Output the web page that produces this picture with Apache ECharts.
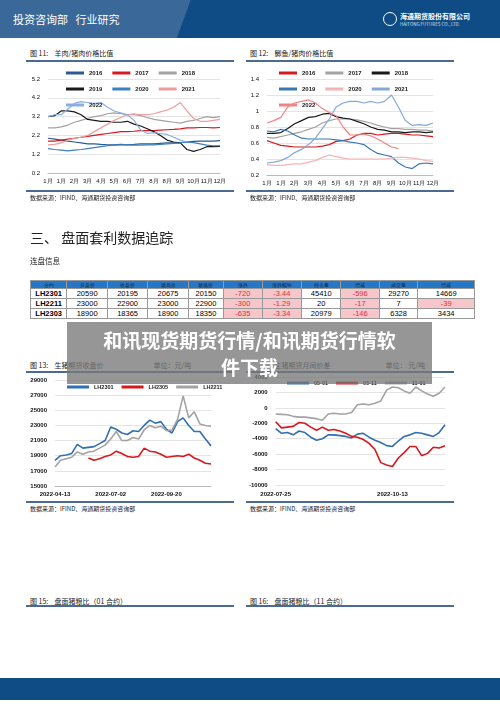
<!DOCTYPE html>
<html><head><meta charset="utf-8">
<script src="https://cdn.jsdelivr.net/npm/echarts@6/dist/echarts.min.js"></script>
<style>
body{margin:0;width:500px;height:707px;background:#fff;position:relative;overflow:hidden;font-family:"Noto Sans CJK SC",sans-serif}
.abs{position:absolute}
.hd{left:0;top:0;width:500px;height:38px;background:linear-gradient(110deg,#3a6898 0,#3a6898 37%,#0f4c86 37.2%,#0f4c86 100%)}
.ft{left:0;top:678px;width:500px;height:22px;background:#0f4c86}
.ttl{font-size:7px;color:#222}
.bar{height:2px;background:#4a6a92;width:208px}
.src{font-size:6px;color:#222}
table{border-collapse:collapse;font-family:Arial,"Liberation Sans",sans-serif;font-size:7.5px;width:445px;table-layout:fixed}
td{border:1px solid #999;text-align:center;height:9px;padding:0;line-height:9px}
th{background:#2577c7;border:1px solid #999;font-size:5px;height:7px;padding:0;color:#123;font-weight:normal}
.n{background:#f7c6cb;color:#e0303a}
</style></head><body>
<div class="abs hd"></div>
<div class="abs" style="left:13px;top:11px;color:#fff;font-size:11px">投资咨询部&nbsp;&nbsp;&nbsp;行业研究</div>
<div class="abs" style="left:383px;top:12px;width:12px;height:12px;border:1.5px solid #fff;border-radius:50%"></div>
<div class="abs" style="left:400px;top:11px;color:#fff;font-size:7px;font-weight:bold">海通期货股份有限公司</div>
<div class="abs" style="left:400px;top:21px;color:#cfe0f0;font-size:4.5px">HAITONG FUTURES CO., LTD.</div>

<div class="abs ttl" style="left:30px;top:48px">图 11:&nbsp;&nbsp;&nbsp;&nbsp;羊肉/猪肉价格比值</div>
<div class="abs bar" style="left:26px;top:60px"></div>
<div class="abs" id="c11" style="left:26px;top:63px;width:208px;height:128px"></div>
<div class="abs bar" style="left:26px;top:190px;height:1.5px"></div>
<div class="abs src" style="left:30px;top:193px">数据来源：IFIND、海通期货投资咨询部</div>

<div class="abs ttl" style="left:250px;top:48px">图 12:&nbsp;&nbsp;&nbsp;&nbsp;鲫鱼/猪肉价格比值</div>
<div class="abs bar" style="left:246px;top:60px"></div>
<div class="abs" id="c12" style="left:246px;top:63px;width:208px;height:128px"></div>
<div class="abs bar" style="left:246px;top:190px;height:1.5px"></div>
<div class="abs src" style="left:250px;top:193px">数据来源：IFIND、海通期货投资咨询部</div>

<div class="abs" style="left:30px;top:227px;font-size:14px;font-family:'Noto Sans CJK SC';color:#222">三、&nbsp;盘面套利数据追踪</div>
<div class="abs" style="left:30px;top:255px;font-size:7.5px;color:#222">连盘信息</div>
<div class="abs" id="tbl" style="left:30px;top:280px"></div>

<div class="abs ttl" style="left:30px;top:360px">图 13:&nbsp;&nbsp;&nbsp;&nbsp;生猪期货收盘价<span style="margin-left:50px">单位：元/吨</span></div>
<div class="abs bar" style="left:26px;top:371px"></div>
<div class="abs" id="c13" style="left:26px;top:374px;width:208px;height:126px"></div>
<div class="abs bar" style="left:26px;top:501px;height:1.5px"></div>
<div class="abs src" style="left:30px;top:504px">数据来源：IFIND、海通期货投资咨询部</div>

<div class="abs ttl" style="left:250px;top:360px"><span style="color:#fff">图 14:</span>&nbsp;&nbsp;&nbsp;&nbsp;生猪期货月间价差<span style="margin-left:55px">单位：&nbsp;元/吨</span></div>
<div class="abs bar" style="left:246px;top:371px"></div>
<div class="abs" id="c14" style="left:246px;top:374px;width:208px;height:126px"></div>
<div class="abs bar" style="left:246px;top:501px;height:1.5px"></div>
<div class="abs src" style="left:250px;top:504px">数据来源：IFIND、海通期货投资咨询部</div>

<div class="abs ttl" style="left:30px;top:596px">图 15:&nbsp;&nbsp;&nbsp;&nbsp;盘面猪粮比（01 合约）</div>
<div class="abs bar" style="left:26px;top:605px"></div>
<div class="abs ttl" style="left:250px;top:596px">图 16:&nbsp;&nbsp;&nbsp;&nbsp;盘面猪粮比（11 合约）</div>
<div class="abs bar" style="left:246px;top:605px"></div>
<div class="abs ft"></div>

<div class="abs" style="left:67px;top:322px;width:365px;height:62px;background:rgba(120,120,120,0.78);color:#fff;font-weight:bold;font-size:19px;text-align:center;line-height:27px;padding-top:4px;box-sizing:border-box">和讯现货期货行情/和讯期货行情软<br>件下载</div>

<script>
// 图11 羊肉/猪肉
const months11 = ['1月','','1月','','2月','','3月','','4月','','5月','','6月','','7月','','8月','','8月','','9月','','10月','','11月','','12月']
const y11_2016 = [2.05,2.0,1.95,1.9,1.85,1.8,1.75,1.75,1.72,1.7,1.7,1.72,1.7,1.72,1.75,1.75,1.75,1.78,1.8,1.8,1.82,1.85,1.88,1.9,1.9,1.9,1.92]
const y11_2017 = [1.9,1.9,1.95,2.0,2.05,2.1,2.15,2.2,2.25,2.3,2.35,2.4,2.4,2.42,2.45,2.45,2.45,2.48,2.5,2.52,2.55,2.6,2.6,2.62,2.62,2.6,2.62]
const y11_2018 = [2.6,2.6,2.65,2.75,2.9,3.0,3.1,3.2,3.25,3.35,3.4,3.35,3.3,3.3,3.25,3.15,3.05,3.0,2.95,2.9,2.85,2.95,3.0,3.1,3.2,3.15,3.2]
const y11_2019 = [3.2,3.25,3.5,3.5,3.45,3.3,3.05,3.0,2.95,2.95,2.9,2.9,2.95,2.8,2.7,2.55,2.4,2.2,1.95,1.85,1.8,1.45,1.35,1.45,1.6,1.6,1.62]
const y11_2020 = [1.5,1.45,1.42,1.38,1.42,1.45,1.5,1.55,1.6,1.65,1.68,1.7,1.7,1.68,1.68,1.7,1.7,1.72,1.75,1.78,1.8,1.85,1.82,1.75,1.68,1.65,1.65]
const y11_2021 = [1.7,1.72,1.8,1.95,2.05,2.1,2.2,2.4,2.6,2.8,3.0,3.15,3.3,3.35,3.3,3.3,3.35,3.45,3.55,3.7,3.95,3.5,3.1,2.95,2.95,3.0,3.05]
const y11_2022 = [3.2,3.3,3.3,3.6,3.9,4.0,3.95,3.9,3.95,3.7,3.5,3.4,3.3,3.0,2.5,2.3,2.35,2.3,2.25,2.1,1.95,1.85,null,null,null,null,null]

// 图12 鲫鱼/猪肉
const months12 = ['1月','','1月','','2月','','3月','','4月','','5月','','6月','','7月','','8月','','9月','','10月','','11月','','12月']
const y12_2016 = [0.63,0.60,0.57,0.56,0.55,0.55,0.55,0.55,0.56,0.58,0.62,0.63,0.65,0.70,0.72,0.72,0.70,0.71,0.72,0.72,0.71,0.70,0.70,0.69,0.68]
const y12_2017 = [0.67,0.66,0.68,0.70,0.72,0.74,0.77,0.80,0.85,0.88,0.90,0.90,0.90,0.89,0.87,0.85,0.82,0.80,0.78,0.78,0.77,0.77,0.76,0.76,0.75]
const y12_2018 = [0.72,0.72,0.73,0.78,0.84,0.88,0.92,0.93,0.96,0.97,0.93,0.91,0.90,0.87,0.84,0.80,0.77,0.76,0.74,0.74,0.73,0.74,0.74,0.73,0.74]
const y12_2019 = [0.75,0.74,0.77,0.75,0.70,0.66,0.65,0.65,0.65,0.65,0.64,0.63,0.61,0.60,0.58,0.52,0.47,0.45,0.43,0.35,0.30,0.28,0.34,0.35,0.34]
const y12_2020 = [0.33,0.32,0.32,0.33,0.34,0.34,0.36,0.38,0.42,0.45,0.43,0.41,0.40,0.40,0.40,0.40,0.40,0.40,0.41,0.42,0.42,0.41,0.40,0.38,0.37]
const y12_2021 = [0.35,0.36,0.38,0.42,0.48,0.52,0.58,0.66,0.78,0.90,1.05,1.10,1.12,1.12,1.10,1.12,1.10,1.12,1.20,1.05,0.88,0.82,0.83,0.82,0.85]
const y12_2022 = [0.85,0.88,0.92,1.05,1.10,1.12,1.14,1.10,1.03,0.98,0.94,0.80,0.70,0.70,0.71,0.69,0.65,0.60,0.55,0.53,null,null,null,null,null]

// 图13 收盘价
const dates13 = ['2022-04-13','04-21','04-29','05-07','05-15','05-23','05-31','06-08','06-16','06-24','2022-07-02','07-10','07-18','07-26','08-03','08-11','08-19','08-27','09-04','09-12','2022-09-20','09-28','10-06','10-14','10-22','10-30','11-07','11-15','11-23']
const lh2301 = [18400,19000,19100,19300,20500,20000,20100,20200,20600,21000,22800,22500,22000,21800,22300,22200,23000,23700,23300,23500,22500,22000,23500,24000,23000,22200,22200,21200,20300]
const lh2305 = [null,null,null,null,null,null,18700,18400,18600,18900,19100,19600,19300,18900,18800,18900,20000,19600,19500,19200,18800,18900,19000,18900,19200,18700,18400,18000,17900]
const lh2211 = [17500,18400,18600,18800,19500,19200,19500,19600,20000,20400,21200,22200,21000,21000,21400,21200,22400,23000,22700,22900,22300,22400,23800,26900,24000,24800,23200,23000,22900]

// 图14 月间价差
const dates14 = ['2022-07-25','07-29','08-02','08-06','08-10','08-14','08-18','08-22','08-26','08-30','09-03','09-07','09-11','09-15','09-19','09-23','09-27','10-01','10-05','10-09','2022-10-13','10-17','10-21','10-25','10-29','11-02','11-06','11-10','11-14','11-18']
const s0501 = [-2700,-3300,-3200,-3500,-3000,-3200,-3800,-4200,-4000,-3500,-3500,-3600,-3700,-3900,-3400,-3300,-3800,-4200,-4500,-4900,-5000,-4300,-3700,-3500,-3200,-3300,-3500,-3700,-3200,-2200]
const s0511 = [-1800,-2600,-2500,-2400,-1900,-2000,-2500,-2900,-2500,-2900,-2800,-3000,-3300,-3700,-3800,-4100,-4600,-5400,-7100,-7400,-7600,-6500,-5800,-5000,-5000,-6200,-5900,-5100,-5200,-4900]
const s1101 = [-800,-850,-900,-1100,-1200,-1200,-1300,-1400,-1600,-800,-700,-800,-800,-600,400,500,400,600,900,2300,2700,2600,2200,1900,2700,2200,1800,1500,1900,2700]

// 连盘信息
const tblHead = ['合约','开盘价','收盘价','最高价','最低价','涨跌','涨跌幅%','持仓量','增减','成交量','增减']
const tblRows = [
  ['LH2301',20590,20195,20675,20150,-720,-3.44,45410,-596,29270,14669],
  ['LH2211',23000,22900,23000,22900,-300,-1.29,20,-17,7,-39],
  ['LH2303',18900,18365,18900,18350,-635,-3.34,20979,-146,6328,3434]
]
const colW = [36,40,40,40,35,38,39,39,38,38,56]

let h = '<table><colgroup>' + colW.map(w => '<col style="width:' + w + 'px">').join('') + '</colgroup><tr>'
h += tblHead.map(t => '<th>' + t + '</th>').join('') + '</tr>'
tblRows.forEach(r => {
  h += '<tr>' + r.map((v, i) => {
    const neg = typeof v === 'number' && v < 0 && i >= 5
    const txt = i === 6 ? v.toFixed(2) : v
    return '<td' + (neg ? ' class="n"' : '') + (i === 0 ? ' style="font-weight:bold"' : '') + '>' + txt + '</td>'
  }).join('') + '</tr>'
})
document.getElementById('tbl').innerHTML = h + '</table>'

const axLab = { fontSize: 6, color: '#111', fontFamily: 'Arial' }
const plain = v => String(v)
const line = (name, data, color, w = 1.2) => ({
  name, type: 'line', data, showSymbol: false, connectNulls: false,
  lineStyle: { color, width: w }, itemStyle: { color }
})
const legend = (extra) => Object.assign({
  itemWidth: 18, itemHeight: 3, itemGap: 10, icon: 'rect', orient: 'horizontal',
  textStyle: { fontSize: 6, color: '#222', fontFamily: 'Arial', fontWeight: 'bold', width: 22 }
}, extra)

const makeChart = (id, option) => {
  const chart = echarts.init(document.getElementById(id))
  option.animation = false
  chart.setOption(option)
}

makeChart('c11', {
  grid: { left: 22, right: 14, top: 16, bottom: 18 },
  legend: legend({ left: 35, top: 2, width: 160 }),
  xAxis: { type: 'category', data: months11, boundaryGap: false,
    axisLine: { lineStyle: { color: '#bbb' } }, axisTick: { show: false },
    axisLabel: Object.assign({ interval: 0, margin: 5 }, axLab) },
  yAxis: { type: 'value', min: 0.2, max: 5.2, interval: 1,
    axisLabel: axLab, splitLine: { lineStyle: { color: '#e4e4e4' } } },
  series: [
    line('2016', y11_2016, '#2a5a97'), line('2017', y11_2017, '#d7191f'),
    line('2018', y11_2018, '#a3a3a3'), line('2019', y11_2019, '#1a1a1a'),
    line('2020', y11_2020, '#3d80c2'), line('2021', y11_2021, '#f09c9c'),
    line('2022', y11_2022, '#8aaee0')
  ]
})

makeChart('c12', {
  grid: { left: 21, right: 21, top: 16, bottom: 16 },
  legend: legend({ left: 28, top: 2, width: 160 }),
  xAxis: { type: 'category', data: months12, boundaryGap: false,
    axisLine: { lineStyle: { color: '#bbb' } }, axisTick: { show: false },
    axisLabel: Object.assign({ interval: 0, margin: 5 }, axLab) },
  yAxis: { type: 'value', min: 0.2, max: 1.4, interval: 0.2,
    axisLabel: Object.assign({ formatter: plain }, axLab), splitLine: { lineStyle: { color: '#e4e4e4' } } },
  series: [
    line('2016', y12_2016, '#d7191f'), line('2017', y12_2017, '#a3a3a3'),
    line('2018', y12_2018, '#1a1a1a'), line('2019', y12_2019, '#3a78b5'),
    line('2020', y12_2020, '#f2b4b4'), line('2021', y12_2021, '#86a8d8'),
    line('2022', y12_2022, '#ee8484')
  ]
})

makeChart('c13', {
  grid: { left: 29, right: 23, top: 6, bottom: 14 },
  legend: legend({ left: 36, top: 5, itemWidth: 22, itemGap: 8, textStyle: { fontSize: 5.5, color: '#222', fontFamily: 'Arial', fontWeight: 'bold' } }),
  xAxis: { type: 'category', data: dates13, boundaryGap: false,
    axisLine: { lineStyle: { color: '#bbb' } }, axisTick: { show: false },
    axisLabel: Object.assign({ interval: 9, margin: 5, fontWeight: 'bold' }, axLab) },
  yAxis: { type: 'value', min: 15000, max: 29000, interval: 2000,
    axisLabel: Object.assign({ fontWeight: 'bold', formatter: plain }, axLab), splitLine: { lineStyle: { color: '#e4e4e4' } } },
  series: [
    line('LH2301', lh2301, '#2f6fb2', 1.6), line('LH2305', lh2305, '#d7191f', 1.6),
    line('LH2211', lh2211, '#a3a3a3', 1.6)
  ]
})

makeChart('c14', {
  grid: { left: 29, right: 9, top: 3, bottom: 15 },
  legend: legend({ left: 36, top: 1, itemWidth: 22, itemGap: 8, textStyle: { fontSize: 5.5, color: '#222', fontFamily: 'Arial', fontWeight: 'bold' } }),
  xAxis: { type: 'category', data: dates14, boundaryGap: false,
    axisLine: { show: false }, axisTick: { show: false },
    axisLabel: Object.assign({ interval: 19, margin: 6, fontWeight: 'bold' }, axLab) },
  yAxis: { type: 'value', min: -10000, max: 4000, interval: 2000,
    axisLabel: Object.assign({ fontWeight: 'bold', formatter: plain }, axLab), splitLine: { lineStyle: { color: '#e4e4e4' } } },
  series: [
    line('05-01', s0501, '#2f6fb2', 1.6), line('05-11', s0511, '#d7191f', 1.6),
    line('11-01', s1101, '#a3a3a3', 1.6)
  ]
})
</script>
</body></html>
